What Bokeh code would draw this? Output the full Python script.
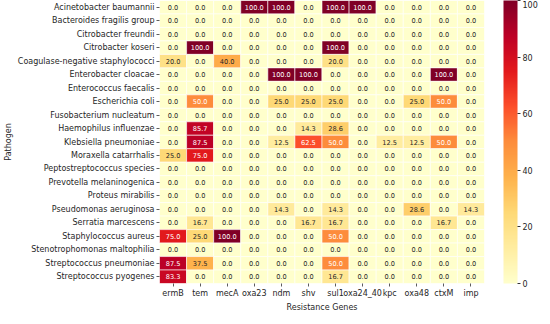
import numpy as np
from bokeh.plotting import figure
from bokeh.models import (ColumnDataSource, LinearColorMapper, ColorBar, FixedTicker,
                          Label, FactorRange)
from bokeh.transform import transform
from bokeh.core.properties import value
from bokeh.embed import file_html
from bokeh.resources import INLINE

pathogens = ["Acinetobacter baumannii", "Bacteroides fragilis group", "Citrobacter freundii",
             "Citrobacter koseri", "Coagulase-negative staphylococci", "Enterobacter cloacae",
             "Enterococcus faecalis", "Escherichia coli", "Fusobacterium nucleatum",
             "Haemophilus influenzae", "Klebsiella pneumoniae", "Moraxella catarrhalis",
             "Peptostreptococcus species", "Prevotella melaninogenica", "Proteus mirabilis",
             "Pseudomonas aeruginosa", "Serratia marcescens", "Staphylococcus aureus",
             "Stenotrophomonas maltophilia", "Streptococcus pneumoniae", "Streptococcus pyogenes"]
genes = ["ermB", "tem", "mecA", "oxa23", "ndm", "shv", "sul1", "oxa24_40", "kpc", "oxa48", "ctxM", "imp"]

ermB = [0, 0, 0, 0, 20, 0, 0, 0, 0, 0, 0, 25, 0, 0, 0, 0, 0, 75, 0, 87.5, 83.3]
tem = [0, 0, 0, 100, 0, 0, 0, 50, 0, 85.7, 87.5, 75, 0, 0, 0, 0, 16.7, 25, 0, 37.5, 0]
mecA = [0, 0, 0, 0, 40, 0, 0, 0, 0, 0, 0, 0, 0, 0, 0, 0, 0, 100, 0, 0, 0]
oxa23 = [100, 0, 0, 0, 0, 0, 0, 0, 0, 0, 0, 0, 0, 0, 0, 0, 0, 0, 0, 0, 0]
ndm = [100, 0, 0, 0, 0, 100, 0, 25, 0, 0, 12.5, 0, 0, 0, 0, 14.3, 0, 0, 0, 0, 0]
shv = [0, 0, 0, 0, 0, 100, 0, 25, 0, 14.3, 62.5, 0, 0, 0, 0, 0, 16.7, 0, 0, 0, 0]
sul1 = [100, 0, 0, 100, 20, 0, 0, 25, 0, 28.6, 50, 0, 0, 0, 0, 14.3, 16.7, 50, 0, 50, 16.7]
oxa24_40 = [100, 0, 0, 0, 0, 0, 0, 0, 0, 0, 0, 0, 0, 0, 0, 0, 0, 0, 0, 0, 0]
kpc = [0, 0, 0, 0, 0, 0, 0, 0, 0, 0, 12.5, 0, 0, 0, 0, 0, 0, 0, 0, 0, 0]
oxa48 = [0, 0, 0, 0, 0, 0, 0, 25, 0, 0, 12.5, 0, 0, 0, 0, 28.6, 0, 0, 0, 0, 0]
ctxM = [0, 0, 0, 0, 0, 100, 0, 50, 0, 0, 50, 0, 0, 0, 0, 0, 16.7, 0, 0, 0, 0]
imp = [0, 0, 0, 0, 0, 0, 0, 0, 0, 0, 0, 0, 0, 0, 0, 14.3, 0, 0, 0, 0, 0]

columns = [ermB, tem, mecA, oxa23, ndm, shv, sul1, oxa24_40, kpc, oxa48, ctxM, imp]
cbar_ticks = [0, 20, 40, 60, 80, 100]

# YlOrRd colormap (light -> dark), interpolated to 256 colours
stops = ['#ffffcc', '#ffeda0', '#fed976', '#feb24c', '#fd8d3c', '#fc4e2a', '#e31a1c', '#bd0026', '#800026']
stop_rgb = np.array([[int(s[i:i + 2], 16) for i in (1, 3, 5)] for s in stops], dtype=float)
pos = np.linspace(0, 1, len(stops))
t = np.linspace(0, 1, 256)
pal_rgb = np.stack([np.interp(t, pos, stop_rgb[:, k]) for k in range(3)], axis=1)
palette = ['#%02x%02x%02x' % tuple(int(round(c)) for c in row) for row in pal_rgb]

def lum(rgb):
    c = np.array(rgb) / 255.0
    c = np.where(c <= 0.03928, c / 12.92, ((c + 0.055) / 1.055) ** 2.4)
    return 0.2126 * c[0] + 0.7152 * c[1] + 0.0722 * c[2]

xs, ys, vals, labels, tcols = [], [], [], [], []
for g, col in zip(genes, columns):
    for pth, v in zip(pathogens, col):
        xs.append(g)
        ys.append(pth)
        vals.append(v)
        labels.append("%.1f" % v)
        idx = int(round(v / 100 * 255))
        tcols.append("#262626" if lum(pal_rgb[idx]) > 0.408 else "#ffffff")

src = ColumnDataSource(dict(x=xs, y=ys, v=vals, label=labels, tc=tcols))
mapper = LinearColorMapper(palette=palette, low=0, high=100)

FW, FH = 325, 283
p = figure(frame_width=FW, frame_height=FH, x_range=FactorRange(*genes),
           y_range=FactorRange(*list(reversed(pathogens))),
           output_backend="svg", toolbar_location=None,
           min_border_left=147, min_border_right=62, min_border_top=0, min_border_bottom=25)

p.rect(x="x", y="y", width=1, height=1, source=src,
       fill_color=transform("v", mapper), line_color="white", line_width=0.6)
p.text(x="x", y="y", text="label", source=src, text_color="tc",
       text_align="center", text_baseline="middle", text_font_size="6.6px",
       text_font=value("DejaVu Sans"))

p.outline_line_color = None
p.grid.grid_line_color = None
for ax in (p.xaxis[0], p.yaxis[0]):
    ax.axis_line_color = None
    ax.major_tick_line_color = "#333333"
    ax.major_tick_line_width = 0.8
    ax.major_tick_out = 3
    ax.major_tick_in = 0
    ax.major_label_standoff = 2
    ax.major_label_text_font = "DejaVu Sans"
    ax.major_label_text_font_size = "8px"
    ax.major_label_text_color = "#262626"
    ax.axis_label_text_font = "DejaVu Sans"
    ax.axis_label_text_font_size = "8px"
    ax.axis_label_text_font_style = "normal"
    ax.axis_label_text_color = "#262626"
    ax.axis_label_standoff = 2
p.xaxis.axis_label = "Resistance Genes"
p.yaxis.axis_label = "Pathogen"

cb = ColorBar(color_mapper=mapper, ticker=FixedTicker(ticks=cbar_ticks),
              location=(FW + 19, 0), width=14, height=FH, margin=0, padding=0,
              label_standoff=2, major_tick_out=3, major_tick_in=0,
              major_tick_line_color="#333333",
              major_label_text_font="DejaVu Sans", major_label_text_font_size="8px",
              major_label_text_color="#262626", bar_line_color=None,
              border_line_color=None, background_fill_color=None)
p.add_layout(cb)

title = Label(x=FW + 56, y=FH / 2, x_units="screen", y_units="screen", text="Gene prevalence (%)",
              angle=np.pi / 2, text_align="center", text_baseline="middle",
              text_font="DejaVu Sans", text_font_size="8px", text_color="#262626")
p.add_layout(title)

open("out.html", "w").write(file_html(p, INLINE))
